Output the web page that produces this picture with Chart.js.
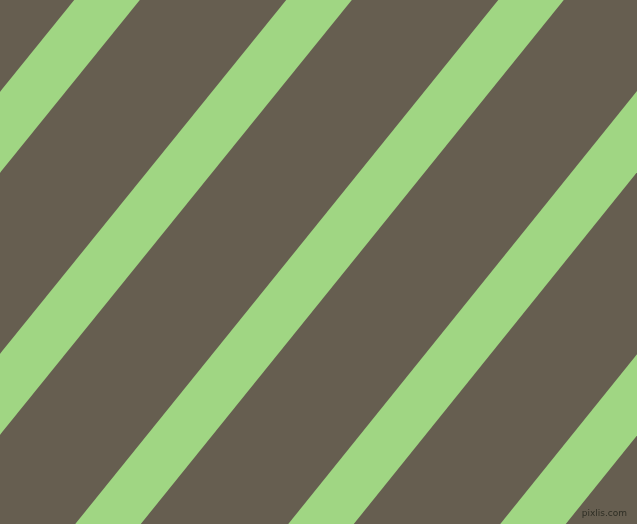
<!DOCTYPE html>
<html>
<head>
<meta charset="utf-8">
<script src="https://cdn.jsdelivr.net/npm/chart.js@4"></script>
<style>
  html, body { margin: 0; padding: 0; background: #665e50; }
  #wrap { position: relative; width: 637px; height: 524px; }
  #credit {
    position: absolute; right: 10px; bottom: 6px;
    font: 9px "DejaVu Sans", sans-serif; color: #2e2e24;
  }
</style>
</head>
<body>
<div id="wrap">
  <canvas id="stripes"></canvas>
  <div id="credit">pixlis.com</div>
</div>
<script>
// stripe centre x at the top edge (y = 524) and bottom edge (y = 0)
const stripeTopX    = [-105, 107, 319, 531, 743, 955, 1167];
const stripeBottomX = [-529, -317, -105, 108, 321, 533, 745];
const stripeWidthPx = 51;   // across the stripe

const W = 637, H = 524;

/* -------------------------------
   DATASETS
--------------------------------*/
function stripeSets() {
  return stripeTopX.map((top, i) => {
    const bot = stripeBottomX[i];
    const k = (top - bot) / H;   // run in x per unit y
    const ext = 80;               // go past the edges so caps don't show
    return {
      data: [
        { x: bot - k * ext, y: -ext },
        { x: top + k * ext, y: H + ext }
      ],
      borderColor: "#a0d683",
      borderWidth: stripeWidthPx,
      borderCapStyle: "butt",
      pointRadius: 0,
      showLine: true,
      fill: false,
      clip: false
    };
  });
}

new Chart(document.getElementById("stripes"), {
  type: "scatter",
  data: { datasets: stripeSets() },
  options: {
    responsive: true,
    maintainAspectRatio: false,
    animation: false,
    layout: { padding: 0 },
    plugins: { legend: { display: false }, tooltip: { enabled: false } },
    scales: {
      x: { type: "linear", min: 0, max: W, display: false },
      y: { type: "linear", min: 0, max: H, display: false }
    }
  }
});
</script>
</body>
</html>
